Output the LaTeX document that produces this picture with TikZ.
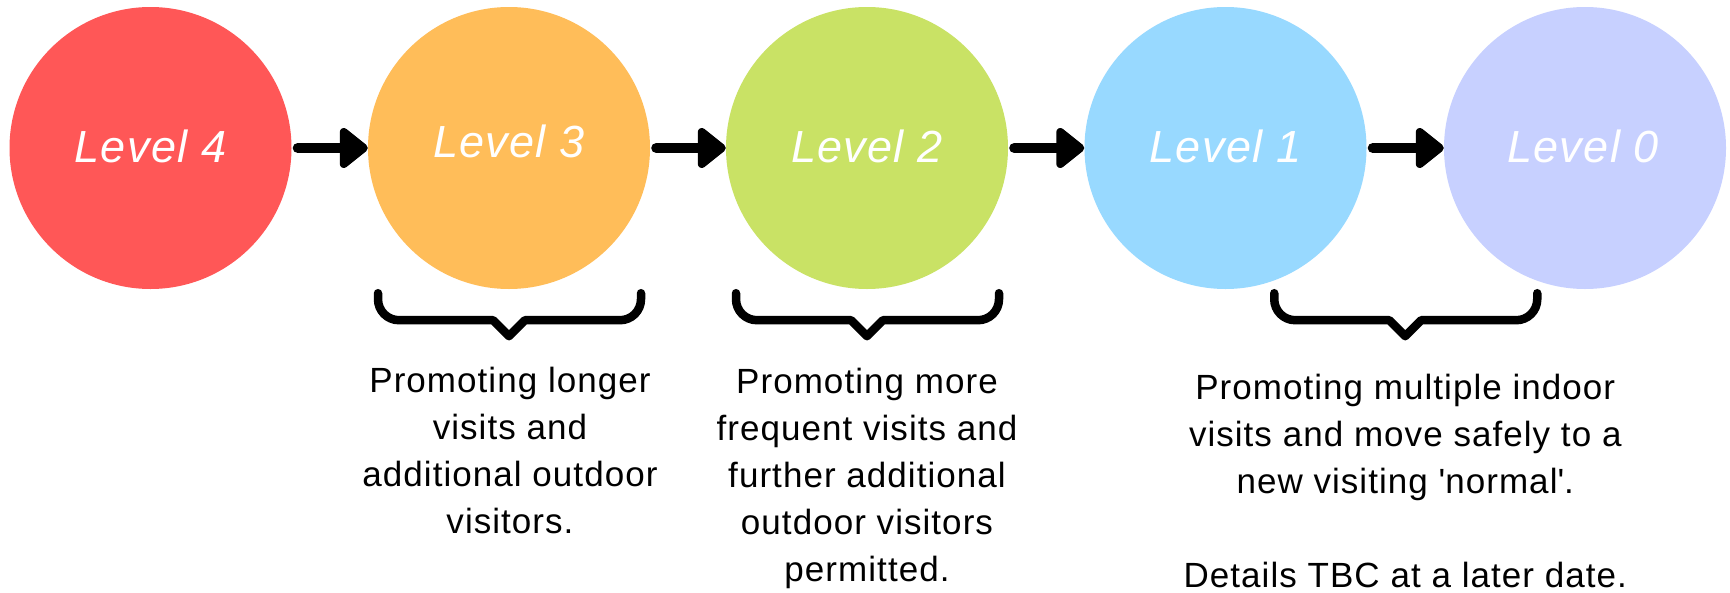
\documentclass[tikz,border=0pt]{standalone}
\usepackage{fontspec}
\setmainfont{Liberation Sans}[LetterSpace=3]
\usetikzlibrary{calc}
\definecolor{cfour}{HTML}{FF5757}
\definecolor{cthree}{HTML}{FFBD59}
\definecolor{ctwo}{HTML}{C9E265}
\definecolor{cone}{HTML}{98D9FF}
\definecolor{czero}{HTML}{C7D0FF}
\tikzset{
  bracepic/.pic={
    \draw[bracestyle] (-131,0) [rounded corners=21pt] -- (-131,27) [sharp corners] -- (-16,27) -- (0,43) -- (16,27) [rounded corners=21pt] -- (132,27) -- (132,0);
  }
}
\begin{document}
\begin{tikzpicture}[x=1pt,y=-1pt,
  level/.style={circle, minimum size=282pt, inner sep=0pt, draw=none},
  lvltext/.style={text=white, font=\fontsize{45}{54}\selectfont\itshape, anchor=base, inner sep=0pt},
  shaft/.style={line width=10pt, line cap=round},
  head/.style={line width=8pt, line join=round, fill=black, draw=black},
  bracestyle/.style={line width=8.5pt, line cap=round, line join=round},
  desc/.style={font=\fontsize{35}{47}\selectfont, align=center, anchor=base, inner sep=0pt}
]
\useasboundingbox (0,0) rectangle (1730,592);
\fill[white] (0,0) rectangle (1730,592);

\node[level, fill=cfour]  (l4) at (150.5,148) {};
\node[level, fill=cthree] (l3) at (509,148) {};
\node[level, fill=ctwo]   (l2) at (867,148) {};
\node[level, fill=cone]   (l1) at (1225.5,148) {};
\node[level, fill=czero]  (l0) at (1585,148) {};

\node[lvltext] (t4) at ($(l4.center)+(0,14)$) {Level 4};
\node[lvltext] (t3) at ($(l3.center)+(0,9)$) {Level 3};
\node[lvltext] (t2) at ($(l2.center)+(0,14)$) {Level 2};
\node[lvltext] (t1) at ($(l1.center)+(0,14)$) {Level 1};
\node[lvltext] (t0) at ($(l0.center)+(-2,14)$) {Level 0};

\foreach \a/\b in {l4/l3, l3/l2, l2/l1, l1/l0}{
  \draw[shaft] ($(\a.east)+(6,0)$) -- ($(\b.west)+(-22,0)$);
  \filldraw[head] ($(\b.west)+(-24,-16)$) -- ($(\b.west)+(-24,16)$) -- ($(\b.west)+(-4,0)$) -- cycle;
}

\pic at ($(l3.south)+(0,4)$) {bracepic};
\pic at ($(l2.south)+(0,4)$) {bracepic};
\coordinate (m10) at ($(l1.south)!0.5!(l0.south)$);
\pic at ($(m10)+(0,4)$) {bracepic};

\node[desc] (d3) at ($(l3.center)+(1,385)$) {Promoting longer\\visits and\\additional outdoor\\visitors.};
\node[desc] (d2) at ($(l2.center)+(0,433)$) {Promoting more\\frequent visits and\\further additional\\outdoor visitors\\permitted.};
\node[desc] (d10) at ($(m10)+(0,298)$) {Promoting multiple indoor\\visits and move safely to a\\new visiting \textquotesingle normal\textquotesingle.\\[47pt]Details TBC at a later date.};
\end{tikzpicture}
\end{document}
